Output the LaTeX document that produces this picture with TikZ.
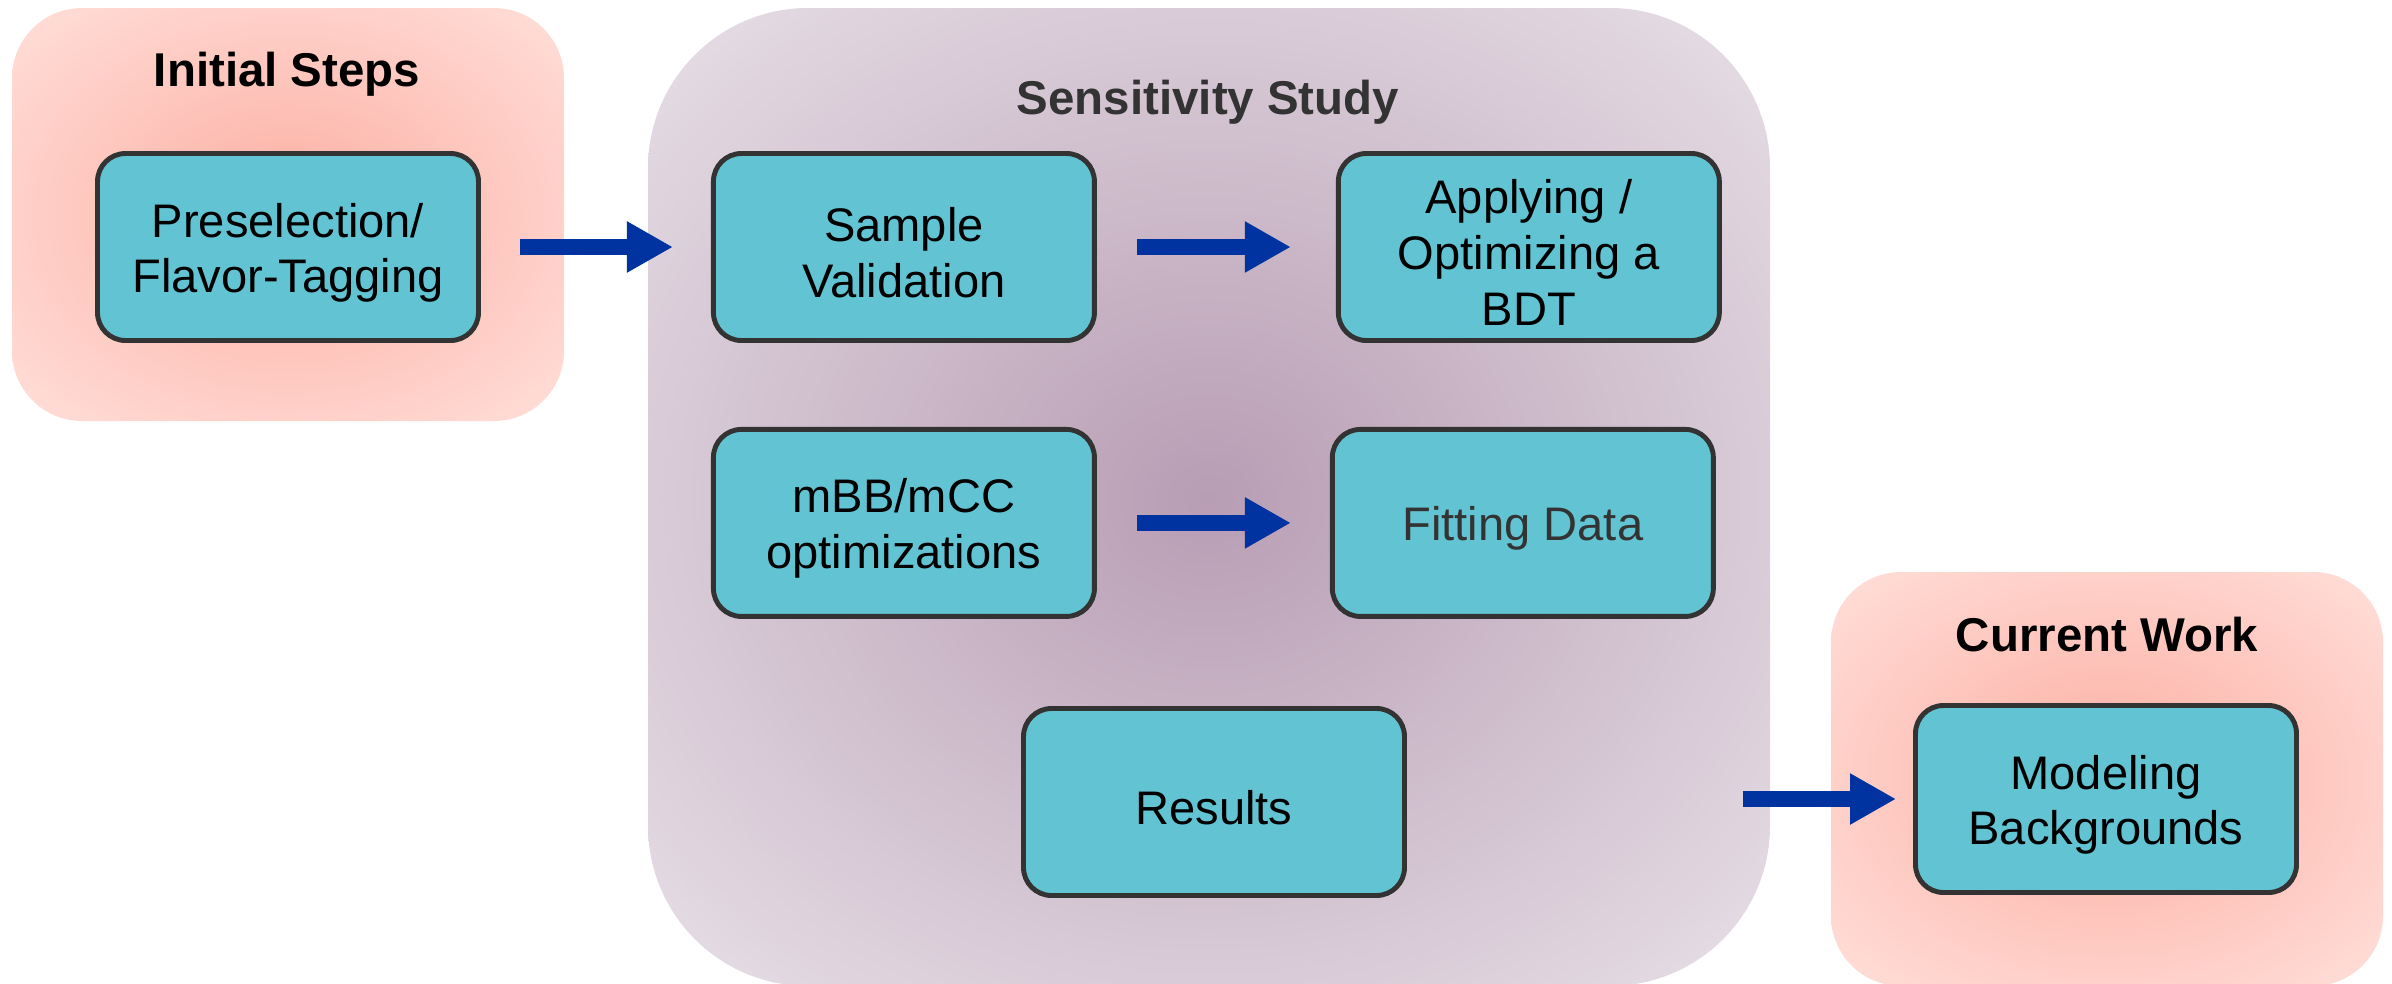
\documentclass[tikz,border=0pt]{standalone}
\usepackage{fontspec}
\setmainfont{Liberation Sans}
\usepackage{xcolor}
\usepackage{tikz}
\usetikzlibrary{arrows.meta,positioning}
\definecolor{boxfill}{HTML}{62C4D3}
\definecolor{boxline}{HTML}{333333}
\definecolor{flowblue}{HTML}{0033A0}
\definecolor{pinkin}{HTML}{FCAEA2}
\definecolor{pinkout}{HTML}{FFDCD6}
\definecolor{mauvein}{HTML}{B89DB4}
\definecolor{mauveout}{HTML}{E4DBE3}
\pgfdeclareradialshading{pinkglow}{\pgfpoint{0bp}{0bp}}{color(0bp)=(pinkin); color(33bp)=(pinkout); color(50bp)=(pinkout)}
\pgfdeclareradialshading{mauveglow}{\pgfpoint{0bp}{0bp}}{color(0bp)=(mauvein); color(33bp)=(mauveout); color(50bp)=(mauveout)}
\newcommand{\topstrut}{\rule{0pt}{13pt}}

\begin{document}
\begin{tikzpicture}[
    box/.style={rectangle, rounded corners=0.28cm, draw=boxline, line width=1.4pt, fill=boxfill, minimum width=3.81cm, minimum height=1.87cm, inner sep=2pt, align=center, font=\fontsize{13.4}{15.9}\selectfont},
    panel/.style={rectangle, rounded corners=0.7cm, shading=pinkglow, draw=none},
    heading/.style={font=\fontsize{13.5}{16}\selectfont\bfseries},
    arrow/.style={-{Triangle[width=0.48cm, length=0.46cm]}, line width=0.16cm, flowblue}
]
    \useasboundingbox (0,0) rectangle (23.92,-9.84);

    % shaded groups
    \node[panel, minimum width=5.52cm, minimum height=4.13cm] (initial) at (2.88,-2.145) {};
    \node[panel, minimum width=11.22cm, minimum height=9.78cm, rounded corners=1.6cm, shading=mauveglow] (study) at (12.09,-4.97) {};
    \node[panel, minimum width=5.52cm, minimum height=4.14cm] (current) at (21.07,-7.79) {};

    \node[heading] (initialtitle) at (2.87,-0.74) {Initial Steps};
    \node[heading, text=boxline] (studytitle) at (12.08,-1.02) {Sensitivity Study};
    \node[heading] (currenttitle) at (21.07,-6.35) {Current Work};

    % steps
    \node[box] (presel) at (2.88,-2.47) {\topstrut Preselection/\\Flavor-Tagging};
    \node[box, right=2.30cm of presel] (sample) {\topstrut Sample\\Validation};
    \node[box, right=2.39cm of sample] (bdt) {\topstrut Applying /\\Optimizing a\\BDT};
    \node[box, below=0.84cm of sample] (mass) {\topstrut mBB/mCC\\optimizations};
    \node[box, right=2.33cm of mass, text=boxline] (fit) {\topstrut Fitting Data};
    \node[box] (results) at (12.14,-8.02) {\topstrut Results};
    \node[box] (model) at (21.06,-7.99) {\topstrut Modeling\\Backgrounds};

    \draw[arrow, shorten <=0.39cm, shorten >=0.38cm] (presel) -- (sample);
    \draw[arrow, shorten <=0.40cm, shorten >=0.45cm] (sample) -- (bdt);
    \draw[arrow, shorten <=0.40cm, shorten >=0.39cm] (mass) -- (fit);
    \coordinate (exit) at ([xshift=-0.28cm]study.east |- model.west);
    \draw[arrow, shorten >=0.17cm] (exit) -- (model);
\end{tikzpicture}
\end{document}
